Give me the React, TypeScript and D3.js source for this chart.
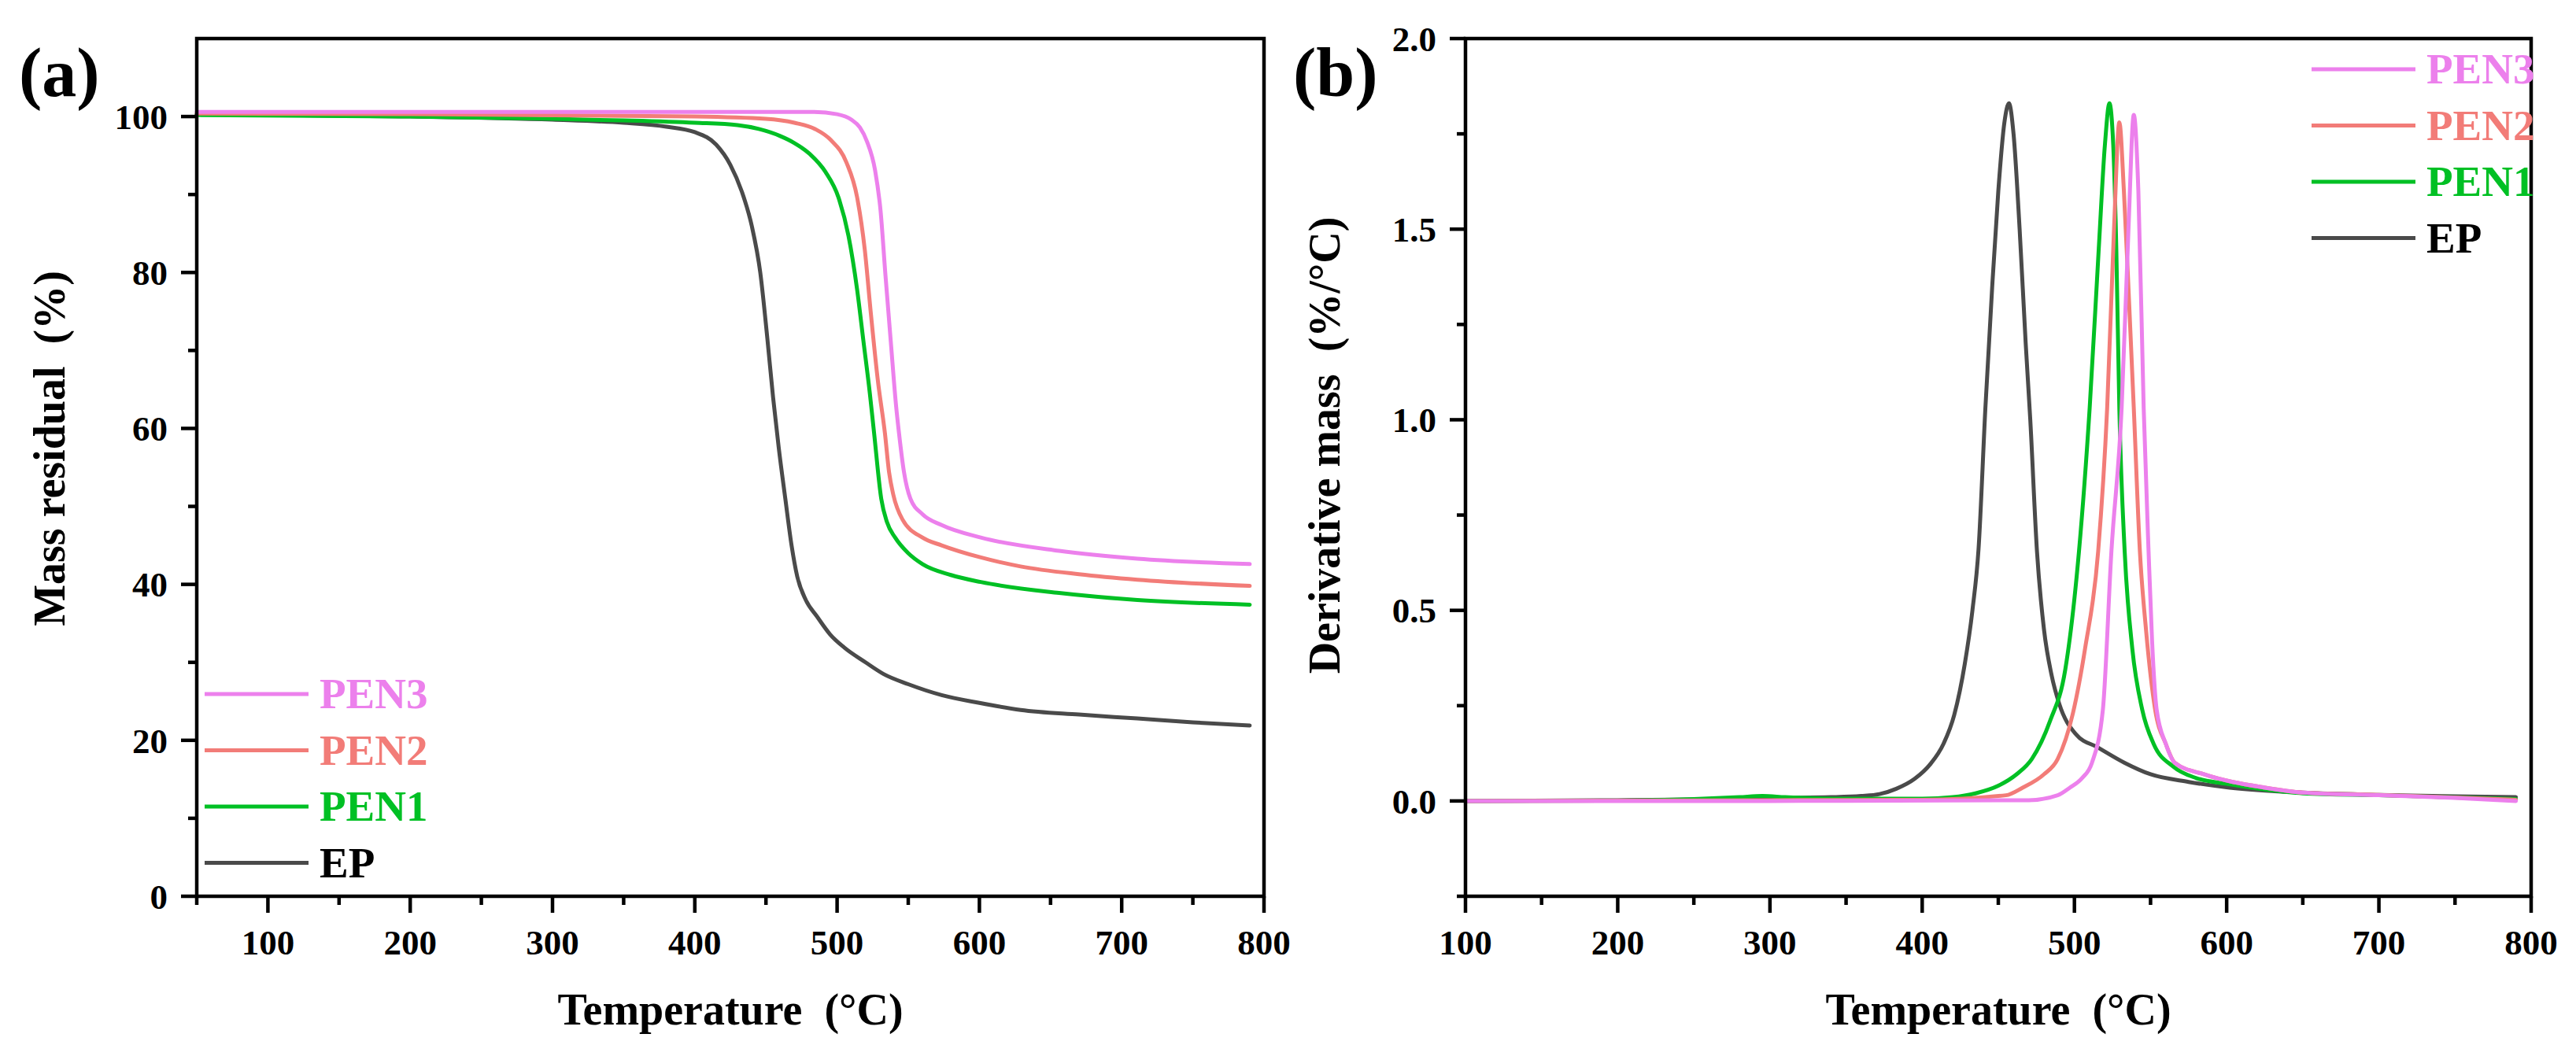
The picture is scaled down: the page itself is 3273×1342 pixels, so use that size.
import React from 'react';
import * as d3 from 'd3';

const W = 3273;
const H = 1342;
const FONT = '"Liberation Serif", "Times New Roman", serif';

const seriesNames = ['PEN3', 'PEN2', 'PEN1', 'EP'];
const lineColors: Record<string, string> = { PEN3: '#EC80EC', PEN2: '#F27C78', PEN1: '#00C024', EP: '#4A4A4A' };
const textColors: Record<string, string> = { PEN3: '#EC80EC', PEN2: '#F27C78', PEN1: '#00C024', EP: '#000000' };

// (a) mass residual (%) vs temperature (°C)
const tgaPEN3: [number, number][] = [
  [50, 100.6], [200, 100.6], [400, 100.6], [484, 100.6], [500, 100.3], [510, 99.6], [516, 98.6],
  [521, 96.8], [526.7, 93.1], [530.5, 88.0], [534, 79.6], [537.7, 71.2], [541.5, 62.8], [543.5, 59.4],
  [547, 54.4], [551.5, 51.0], [560, 49.0], [573.5, 47.6], [601, 46.0], [656, 44.3], [711, 43.3], [790, 42.6],
];
const tgaPEN2: [number, number][] = [
  [50, 100.4], [200, 100.3], [400, 100.0], [450, 99.7], [470, 99.2], [484.5, 98.4], [495.5, 97.0],
  [506.6, 94.1], [514, 89.7], [519.4, 83.0], [523.8, 74.6], [528.6, 66.2], [533.6, 59.4], [536.5, 54.4],
  [539.5, 51.5], [546, 48.3], [560, 46.0], [573.5, 45.0], [600, 43.5], [629, 42.3], [670, 41.3],
  [711, 40.6], [790, 39.8],
];
const tgaPEN1: [number, number][] = [
  [50, 100.2], [200, 100.0], [300, 99.7], [350, 99.5], [400, 99.2], [430, 98.9], [445, 98.4],
  [460, 97.5], [470, 96.6], [480.8, 95.2], [491.8, 92.9], [501, 89.6], [508, 84.7], [514, 77.9],
  [518.5, 71.2], [523, 64.5], [526, 59.4], [531, 51.0], [535, 48.0], [540.8, 46.0], [550, 44.0],
  [560, 42.6], [580, 41.2], [601, 40.3], [656, 38.9], [711, 38.0], [790, 37.4],
];
const tgaEP: [number, number][] = [
  [50, 100.3], [100, 100.2], [200, 100.0], [300, 99.6], [350, 99.2], [380, 98.7], [400, 98.0],
  [415, 96.4], [425, 93.8], [433, 90.4], [440, 86.0], [446, 80.0], [451, 71.5], [455, 64.0],
  [459, 57.5], [463.6, 51.0], [468, 45.0], [472, 41.0], [478, 38.0], [485.8, 35.9], [495, 33.6],
  [505, 31.9], [520, 30.0], [532.7, 28.5], [550, 27.2], [573.5, 25.8], [600, 24.8], [629, 23.9],
  [670, 23.3], [711, 22.8], [750, 22.3], [790, 21.9],
];

// (b) derivative mass (%/°C) vs temperature (°C)
const dtgPEN3: [number, number][] = [
  [100, 0.0], [300, 0.0], [470, 0.002], [489, 0.015], [497, 0.035], [505, 0.06], [511.5, 0.1],
  [518.7, 0.24], [524.3, 0.655], [531, 1.03], [535.5, 1.5], [539, 1.8], [542, 1.6], [545.5, 1.03],
  [548.7, 0.655], [551, 0.42], [554, 0.24], [560, 0.15], [566, 0.1], [585, 0.07], [625, 0.035],
  [650, 0.022], [700, 0.015], [750, 0.008], [790, 0.0],
];
const dtgPEN2: [number, number][] = [
  [100, 0.0], [300, 0.002], [400, 0.003], [455, 0.015], [466, 0.035], [480, 0.07], [489, 0.11],
  [499, 0.23], [507, 0.4], [515.6, 0.655], [521.5, 1.03], [526, 1.5], [529.5, 1.78], [532.5, 1.6],
  [536, 1.3], [539, 1.03], [543, 0.655], [547, 0.45], [553, 0.24], [560, 0.15], [566, 0.1],
  [585, 0.07], [625, 0.035], [650, 0.022], [700, 0.016], [790, 0.003],
];
const dtgPEN1: [number, number][] = [
  [100, 0.0], [200, 0.001], [250, 0.005], [280, 0.01], [295, 0.013], [310, 0.01], [350, 0.006],
  [400, 0.006], [420, 0.01], [435, 0.02], [450, 0.04], [462, 0.07], [472, 0.11], [484, 0.21],
  [494, 0.345], [503, 0.655], [510, 1.03], [516, 1.45], [520, 1.72], [523, 1.83], [525.5, 1.72],
  [527.5, 1.45], [529.5, 1.03], [533, 0.655], [538, 0.4], [544.5, 0.24], [552, 0.15], [565, 0.09],
  [580, 0.06], [600, 0.045], [625, 0.03], [650, 0.02], [700, 0.015], [790, 0.005],
];
const dtgEP: [number, number][] = [
  [100, 0.0], [200, 0.002], [250, 0.004], [300, 0.008], [340, 0.01], [360, 0.013], [372, 0.018],
  [383, 0.032], [395, 0.058], [405, 0.095], [414, 0.15], [421, 0.225], [428, 0.36], [433, 0.5],
  [437, 0.66], [441.5, 1.03], [446, 1.35], [450, 1.6], [454, 1.78], [457, 1.83], [460, 1.75],
  [464, 1.5], [468, 1.2], [471, 1.0], [475.4, 0.655], [480, 0.45], [485, 0.33], [490, 0.255],
  [501, 0.175], [515.6, 0.14], [533, 0.1], [550, 0.07], [575, 0.05], [602, 0.035], [650, 0.022],
  [700, 0.016], [750, 0.012], [790, 0.01],
];

const tgaData: Record<string, [number, number][]> = { PEN3: tgaPEN3, PEN2: tgaPEN2, PEN1: tgaPEN1, EP: tgaEP };
const dtgData: Record<string, [number, number][]> = { PEN3: dtgPEN3, PEN2: dtgPEN2, PEN1: dtgPEN1, EP: dtgEP };

const xTicks = [100, 200, 300, 400, 500, 600, 700, 800];
const yTicksA = [0, 20, 40, 60, 80, 100];
const yMinorA = [10, 30, 50, 70, 90];
const yTicksB = [0.0, 0.5, 1.0, 1.5, 2.0];
const yMinorB = [-0.25, 0.25, 0.75, 1.25, 1.75];

const AXW = 4.5;

type PanelProps = {
  left: number; right: number; top: number; bottom: number;
  xDomain: [number, number]; yDomain: [number, number];
  xMinor: number[]; yTicks: number[]; yMinor: number[]; yFmt: (v: number) => string;
  data: Record<string, [number, number][]>;
  legendX: number; legendY: number;
  tag: string; tagX: number;
  yTitle: string; yTitleX: number; yTitleY: number;
};

function Panel(p: PanelProps) {
  const x = d3.scaleLinear().domain(p.xDomain).range([p.left, p.right]);
  const y = d3.scaleLinear().domain(p.yDomain).range([p.bottom, p.top]);
  const line = d3.line<[number, number]>().x(d => x(d[0])).y(d => y(d[1])).curve(d3.curveMonotoneX);
  const drawOrder = ['EP', 'PEN1', 'PEN2', 'PEN3'];
  return (
    <g>
      <g>
        {drawOrder.map(k => (
          <path key={k} d={line(p.data[k]) || ''} fill="none" stroke={lineColors[k]} strokeWidth={5}
            strokeLinejoin="round" strokeLinecap="round" />
        ))}
      </g>
      <rect x={p.left} y={p.top} width={p.right - p.left} height={p.bottom - p.top}
        fill="none" stroke="#000" strokeWidth={AXW} />
      {xTicks.filter(t => t >= p.xDomain[0]).map(t => (
        <g key={'xt' + t}>
          <line x1={x(t)} x2={x(t)} y1={p.bottom} y2={p.bottom + 21} stroke="#000" strokeWidth={AXW} />
          <text x={x(t)} y={1213} textAnchor="middle" fontSize={45} fontWeight="bold" fontFamily={FONT}>{t}</text>
        </g>
      ))}
      {p.xMinor.map(t => (
        <line key={'xm' + t} x1={x(t)} x2={x(t)} y1={p.bottom} y2={p.bottom + 11} stroke="#000" strokeWidth={AXW} />
      ))}
      {p.yTicks.map(t => (
        <g key={'yt' + t}>
          <line x1={p.left - 20} x2={p.left} y1={y(t)} y2={y(t)} stroke="#000" strokeWidth={AXW} />
          <text x={p.left - 37} y={y(t)} dy="0.35em" textAnchor="end" fontSize={45} fontWeight="bold"
            fontFamily={FONT}>{p.yFmt(t)}</text>
        </g>
      ))}
      {p.yMinor.map(t => (
        <line key={'ym' + t} x1={p.left - 11} x2={p.left} y1={y(t)} y2={y(t)} stroke="#000" strokeWidth={AXW} />
      ))}
      <text x={(p.left + p.right) / 2} y={1302} textAnchor="middle" fontSize={56} fontWeight="bold"
        fontFamily={FONT} style={{ whiteSpace: 'pre' }}>{'Temperature  (°C)'}</text>
      <text transform={`translate(${p.yTitleX},${p.yTitleY}) rotate(-90)`} textAnchor="middle" fontSize={56}
        fontWeight="bold" fontFamily={FONT} style={{ whiteSpace: 'pre' }}>{p.yTitle}</text>
      <text x={p.tagX} y={122} fontSize={88} fontWeight="bold" fontFamily={FONT}>{p.tag}</text>
      {seriesNames.map((k, i) => {
        const ly = p.legendY + i * 71.5;
        return (
          <g key={'lg' + k}>
            <line x1={p.legendX} x2={p.legendX + 132} y1={ly} y2={ly} stroke={lineColors[k]} strokeWidth={5} />
            <text x={p.legendX + 146} y={ly + 18} fontSize={55} fontWeight="bold" fontFamily={FONT}
              fill={textColors[k]}>{k}</text>
          </g>
        );
      })}
    </g>
  );
}

export default function App() {
  const minorA = d3.range(50, 800, 100);
  const minorB = d3.range(150, 800, 100);
  return (
    <svg width={W} height={H} viewBox={`0 0 ${W} ${H}`}
      style={{ position: 'absolute', left: 0, top: 0, background: '#fff', display: 'block' }}>
      <rect x={0} y={0} width={W} height={H} fill="#fff" />
      <Panel left={250} right={1606} top={49} bottom={1139} xDomain={[50, 800]} yDomain={[0, 110]}
        xMinor={minorA} yTicks={yTicksA} yMinor={yMinorA} yFmt={v => String(v)} data={tgaData}
        legendX={260} legendY={882} tag="(a)" tagX={24}
        yTitle={'Mass residual  (%)'} yTitleX={82} yTitleY={570} />
      <Panel left={1862} right={3216} top={49} bottom={1139} xDomain={[100, 800]} yDomain={[-0.25, 2.0]}
        xMinor={minorB} yTicks={yTicksB} yMinor={yMinorB} yFmt={v => v.toFixed(1)} data={dtgData}
        legendX={2937} legendY={88} tag="(b)" tagX={1643}
        yTitle={'Derivative mass  (%/°C)'} yTitleX={1702} yTitleY={566} />
    </svg>
  );
}
